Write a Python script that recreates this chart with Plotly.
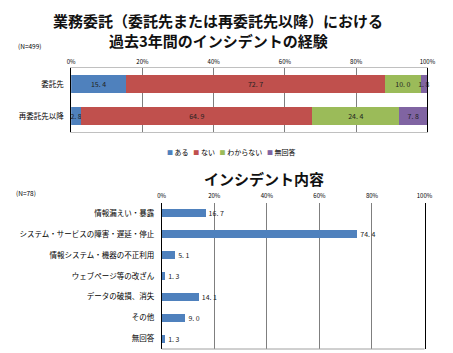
import plotly.graph_objects as go

# ---- data ----
top_categories = ["委託先", "再委託先以降"]
top_series = ["ある", "ない", "わからない", "無回答"]
top_values = {
    "ある": [15.4, 2.8],
    "ない": [72.7, 64.9],
    "わからない": [10.0, 24.4],
    "無回答": [1.8, 7.8],
}
top_colors = ["#4F81BD", "#C0504D", "#9BBB59", "#8064A2"]

bottom_categories = [
    "情報漏えい・暴露",
    "システム・サービスの障害・遅延・停止",
    "情報システム・機器の不正利用",
    "ウェブページ等の改ざん",
    "データの破損、消失",
    "その他",
    "無回答",
]
bottom_values = [16.7, 74.4, 5.1, 1.3, 14.1, 9.0, 1.3]
tick_vals = [0, 20, 40, 60, 80, 100]
tick_text = ["0%", "20%", "40%", "60%", "80%", "100%"]

FONT = "Noto Sans CJK JP"
W, H = 453, 353


def fmt(v):
    return f"{v:.1f}".replace(".", ". ")


fig = go.Figure()

for name, col in zip(top_series, top_colors):
    vals = top_values[name]
    fig.add_trace(go.Bar(
        x=vals, y=top_categories, orientation="h", name=name,
        marker=dict(color=col, line=dict(width=0)),
        text=[fmt(v) for v in vals], textposition="inside", textangle=0,
        insidetextanchor="middle", constraintext="none",
        textfont=dict(family=FONT, size=7, color="#222222"),
        showlegend=False, xaxis="x", yaxis="y", cliponaxis=False,
    ))

fig.add_trace(go.Bar(
    x=bottom_values, y=bottom_categories, orientation="h",
    marker=dict(color="#4F81BD", line=dict(width=0)),
    text=[fmt(v) for v in bottom_values], textposition="outside", textangle=0,
    constraintext="none",
    textfont=dict(family=FONT, size=7, color="#222222"),
    showlegend=False, width=0.38, xaxis="x2", yaxis="y2", cliponaxis=False,
))


def px(x):
    return x / W


def py(y):
    return 1 - y / H


fig.update_layout(
    width=W, height=H,
    margin=dict(l=0, r=0, t=0, b=0),
    paper_bgcolor="white", plot_bgcolor="white",
    barmode="stack", bargap=0.42,
    font=dict(family=FONT, size=7, color="#000000"),
    showlegend=False,
    xaxis=dict(
        domain=[px(69), px(435)], range=[0, 100], side="top",
        tickvals=tick_vals, ticktext=tick_text, ticks="",
        showgrid=True, gridcolor="#7f7f7f", gridwidth=1,
        showline=True, mirror=True, linecolor="#c0c0c0", linewidth=1,
        zeroline=False, tickfont=dict(size=6), ticklabelstandoff=1,
        anchor="y", fixedrange=True,
    ),
    yaxis=dict(
        domain=[py(132), py(68)], autorange="reversed",
        showline=True, mirror=True, linecolor="#000000", linewidth=1,
        ticks="", ticklabelstandoff=5, tickfont=dict(size=7.5),
        anchor="x",
    ),
    xaxis2=dict(
        domain=[px(162), px(432)], range=[0, 100], side="top",
        tickvals=tick_vals, ticktext=tick_text, ticks="",
        showgrid=True, gridcolor="#7f7f7f", gridwidth=1,
        showline=False, zeroline=False, tickfont=dict(size=6),
        ticklabelstandoff=3, anchor="y2",
    ),
    yaxis2=dict(
        domain=[py(349), py(203)], autorange="reversed",
        showline=True, mirror=True, linecolor="#000000", linewidth=1,
        ticks="", ticklabelstandoff=5, tickfont=dict(size=7.5),
        anchor="x2",
    ),
)

# bottom axis line of lower chart
fig.add_shape(type="line", xref="x2 domain", yref="y2 domain", x0=0, x1=1, y0=0, y1=0,
              line=dict(color="#a0a0a0", width=1))

# compact legend (as in the reference)
legend_text = "   ".join(
    f"<span style='color:{c}; font-size:6px'>■</span> {n}" for n, c in zip(top_series, top_colors)
)
fig.add_annotation(text=legend_text, x=px(233), y=py(152), xref="paper", yref="paper",
                   xanchor="center", yanchor="middle", showarrow=False,
                   font=dict(size=7, family=FONT, color="#000000"))

fig.add_annotation(text="<b>業務委託（委託先または再委託先以降）における</b>",
                   x=px(220), y=py(20), xref="paper", yref="paper", showarrow=False,
                   xanchor="center", yanchor="middle",
                   font=dict(size=15, family=FONT, color="#111111"))
fig.add_annotation(text="<b>過去3年間のインシデントの経験</b>",
                   x=px(220), y=py(40), xref="paper", yref="paper", showarrow=False,
                   xanchor="center", yanchor="middle",
                   font=dict(size=15, family=FONT, color="#111111"))
fig.add_annotation(text="(N=499)", x=px(12), y=py(46), xref="paper", yref="paper",
                   xanchor="left", yanchor="middle", showarrow=False, font=dict(size=6.5))
fig.add_annotation(text="<b>インシデント内容</b>",
                   x=px(267), y=py(178), xref="paper", yref="paper", showarrow=False,
                   xanchor="center", yanchor="middle",
                   font=dict(size=15, family=FONT, color="#111111"))
fig.add_annotation(text="(N=78)", x=px(10), y=py(193), xref="paper", yref="paper",
                   xanchor="left", yanchor="middle", showarrow=False, font=dict(size=6.5))

fig.write_html("out.html")
